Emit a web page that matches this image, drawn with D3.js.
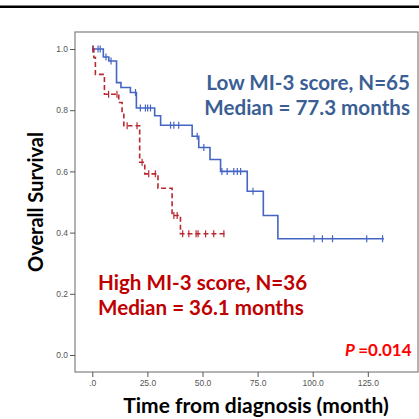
<!DOCTYPE html>
<html>
<head>
<meta charset="utf-8">
<script src="https://cdn.jsdelivr.net/npm/d3@7"></script>
<style>
  body { margin: 0; background: #fff; }
  svg { display: block; }
</style>
</head>
<body>
<script>
// Kaplan-Meier step points: [month, survival]
const lowSteps = [[0, 1.0], [5, 0.974], [7.5, 0.961], [11, 0.89], [13, 0.874], [17.3, 0.858],
    [20, 0.807], [28.3, 0.782], [31, 0.751], [45.3, 0.715], [48.3, 0.678], [53.4, 0.639],
    [58.2, 0.600], [70.3, 0.535], [77.6, 0.456], [84.2, 0.38], [132.3, 0.38]];
const lowCensored = [[0.2, 1], [2.6, 1], [3.6, 1], [6.2, 0.974], [8.5, 0.961], [19.6, 0.858],
    [21.8, 0.807], [24.1, 0.807], [25.1, 0.807], [26.4, 0.807], [35.5, 0.751], [37, 0.751],
    [39.2, 0.751], [47.6, 0.715], [50.6, 0.678], [58.8, 0.6], [61.2, 0.6], [64.2, 0.6],
    [65.8, 0.6], [67.3, 0.6], [72.9, 0.535], [100.6, 0.38], [104.4, 0.38], [109, 0.38],
    [124.5, 0.38], [131.7, 0.38]];

const highSteps = [[0, 1.0], [0.7, 0.972], [1.4, 0.917], [5.5, 0.852], [12, 0.825], [13.5, 0.787],
    [14.3, 0.749], [21.5, 0.63], [23.8, 0.592], [29.8, 0.545], [36.2, 0.456], [40, 0.396],
    [60.5, 0.396]];
const highCensored = [[0.4, 1], [7.4, 0.852], [11.2, 0.852], [15.8, 0.749], [20.3, 0.749],
    [22.6, 0.63], [25.6, 0.592], [28.6, 0.592], [37, 0.456], [38.5, 0.456], [41, 0.396],
    [43.8, 0.396], [47.1, 0.396], [48, 0.396], [51.4, 0.396], [55.1, 0.396], [59.7, 0.396]];

const xTicks = [0, 25, 50, 75, 100, 125];
const yTicks = [0, 0.2, 0.4, 0.6, 0.8, 1.0];

const lowLabel = ["Low MI-3 score, N=65", "Median = 77.3 months"];
const highLabel = ["High MI-3 score, N=36", "Median = 36.1 months"];
const pValue = "=0.014";

const width = 419;
const height = 419;

const svg = d3.select("body").append("svg")
    .attr("width", width)
    .attr("height", height)
    .attr("viewBox", [0, 0, width, height]);

// thick rule across the top
svg.append("rect")
    .attr("x", 0).attr("y", 5.5)
    .attr("width", width).attr("height", 2.5)
    .attr("fill", "#000");

// plot frame
const box = {left: 75, top: 32, right: 418, bottom: 372};
svg.append("rect")
    .attr("x", box.left).attr("y", box.top)
    .attr("width", box.right - box.left).attr("height", box.bottom - box.top)
    .attr("fill", "none")
    .attr("stroke", "#808080")
    .attr("stroke-width", 1.2);

const x = d3.scaleLinear().domain([0, 125]).range([92.3, 367.8]);
const y = d3.scaleLinear().domain([0, 1]).range([355, 49]);

// axes
svg.append("g")
    .attr("transform", `translate(0,${box.bottom})`)
    .call(d3.axisBottom(x).tickValues(xTicks).tickSize(5).tickPadding(3)
        .tickFormat(d => d === 0 ? ".0" : d3.format(".1f")(d)))
    .call(g => g.select(".domain").remove())
    .call(g => g.selectAll(".tick line").attr("stroke", "#555"))
    .call(g => g.selectAll(".tick text")
        .attr("fill", "#555")
        .style("font", "8.5px 'Liberation Sans', Arial, sans-serif"));

svg.append("g")
    .attr("transform", `translate(${box.left},0)`)
    .call(d3.axisLeft(y).tickValues(yTicks).tickSize(5).tickPadding(2)
        .tickFormat(d3.format(".1f")))
    .call(g => g.select(".domain").remove())
    .call(g => g.selectAll(".tick line").attr("stroke", "#555"))
    .call(g => g.selectAll(".tick text")
        .attr("fill", "#555")
        .style("font", "8.5px 'Liberation Sans', Arial, sans-serif"));

// axis titles
svg.append("text")
    .attr("transform", `translate(43,${(y(0) + y(1)) / 2}) rotate(-90)`)
    .attr("text-anchor", "middle")
    .style("font", "bold 20px Lato, sans-serif")
    .attr("fill", "#000")
    .text("Overall Survival");

svg.append("text")
    .attr("x", 256)
    .attr("y", 413)
    .attr("text-anchor", "middle")
    .style("font", "bold 21px Lato, sans-serif")
    .attr("fill", "#000")
    .text("Time from diagnosis (month)");

// survival curves
const line = d3.line()
    .x(d => x(d[0]))
    .y(d => y(d[1]))
    .curve(d3.curveStepAfter);

function drawCurve(steps, censored, color, dash) {
    svg.append("path")
        .datum(steps)
        .attr("fill", "none")
        .attr("stroke", color)
        .attr("stroke-width", 1.6)
        .attr("stroke-dasharray", dash)
        .attr("d", line);

    svg.append("g")
        .selectAll("line")
        .data(censored)
        .join("line")
        .attr("x1", d => x(d[0]))
        .attr("x2", d => x(d[0]))
        .attr("y1", d => y(d[1]) - 3.5)
        .attr("y2", d => y(d[1]) + 3.5)
        .attr("stroke", color)
        .attr("stroke-width", 1.2);
}

drawCurve(lowSteps, lowCensored, "#4565c4", null);
drawCurve(highSteps, highCensored, "#b8282e", "5,3");

// annotations
svg.append("g")
    .selectAll("text")
    .data(lowLabel)
    .join("text")
    .attr("x", 410)
    .attr("y", (d, i) => 89.5 + i * 25.5)
    .attr("text-anchor", "end")
    .attr("fill", "#3b5f95")
    .style("font", "bold 20.6px Lato, sans-serif")
    .text(d => d);

svg.append("g")
    .selectAll("text")
    .data(highLabel)
    .join("text")
    .attr("x", 98)
    .attr("y", (d, i) => 290 + i * 25)
    .attr("fill", "#c00000")
    .style("font", "bold 20.6px Lato, sans-serif")
    .text(d => d);

const pText = svg.append("text")
    .attr("x", 411.5)
    .attr("y", 356)
    .attr("text-anchor", "end")
    .attr("fill", "#ff0000")
    .style("font", "bold 17px Lato, sans-serif");
pText.append("tspan").attr("font-style", "italic").text("P ");
pText.append("tspan").text(pValue);
</script>
</body>
</html>
